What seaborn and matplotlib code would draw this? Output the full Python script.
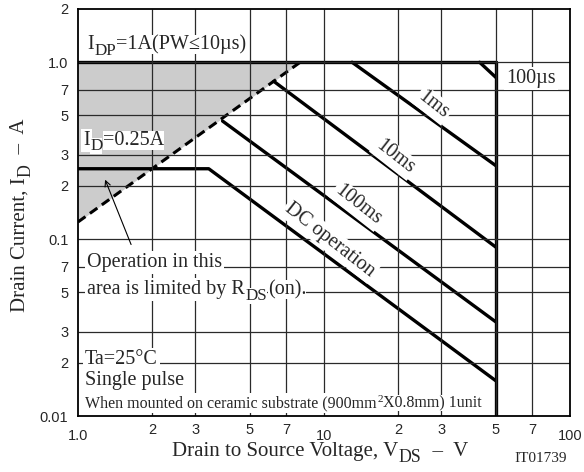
import numpy as np
import pandas as pd
import seaborn as sns
import matplotlib
matplotlib.use("Agg")
import matplotlib.pyplot as plt

# SOA curves (V_DS in V, I_D in A)
idp_v = [1.0, 50.0]
idp_i = [1.0, 1.0]
vmax_v = [50.0, 50.0]
vmax_i = [1.0, 0.01]
us100_v = [42.9, 50.0]
us100_i = [1.0, 0.82]
ms1_v = [13.0, 50.0]
ms1_i = [1.0, 0.26]
ms10_v = [6.25, 50.0]
ms10_i = [0.78, 0.090]
ms100_v = [3.87, 50.0]
ms100_i = [0.465, 0.034]
dc_v = [1.0, 3.4, 50.0]
dc_i = [0.25, 0.25, 0.0158]
rds_v = [1.0, 8.0]
rds_i = [0.125, 1.0]

x_major = [1, 10, 100]
x_major_lbl = ['1.0', '10', '100']
x_minor = [2, 3, 5, 7, 20, 30, 50, 70]
x_minor_lbl = ['2', '3', '5', '7', '2', '3', '5', '7']
y_major = [0.01, 0.1, 1.0]
y_major_lbl = ['0.01', '0.1', '1.0']
y_minor = [0.02, 0.03, 0.05, 0.07, 0.2, 0.3, 0.5, 0.7, 2]
y_minor_lbl = ['2', '3', '5', '7', '2', '3', '5', '7', '2']

curves = {'idp': (idp_v, idp_i), 'vmax': (vmax_v, vmax_i), '100us': (us100_v, us100_i),
          '1ms': (ms1_v, ms1_i), '10ms': (ms10_v, ms10_i), '100ms': (ms100_v, ms100_i),
          'dc': (dc_v, dc_i)}
rows = []
for name, (vs, cs) in curves.items():
    for v, c in zip(vs, cs):
        rows.append({'curve': name, 'vds': v, 'id': c})
df = pd.DataFrame(rows)
df_rds = pd.DataFrame({'vds': rds_v, 'id': rds_i})

sns.set_style('white')
plt.rcParams['font.family'] = ['Liberation Serif', 'DejaVu Serif']

fig = plt.figure(figsize=(5.84, 4.72), dpi=100)
ax = fig.add_axes([78 / 584, 1 - 416 / 472, 492 / 584, 407 / 472])
ax.set_xscale('log')
ax.set_yscale('log')

ax.fill_between(rds_v, rds_i, 1.0, color='#cccccc', lw=0, zorder=2)
sns.lineplot(data=df, x='vds', y='id', units='curve', estimator=None, sort=False,
             color='black', lw=2.4, ax=ax, zorder=3)
sns.lineplot(data=df_rds, x='vds', y='id', sort=False, color='black', lw=2.2,
             ax=ax, zorder=3)
ax.lines[-1].set_dashes([3, 1.8])

ax.set_xlim(1, 100)
ax.set_ylim(0.01, 2)
# grid drawn as line collections at the tick positions
ax.vlines(x_major[1:-1] + x_minor, 0.01, 2, colors='#2a2a2a', lw=0.9, zorder=4)
ax.hlines(y_major[1:] + y_minor[:-1], 1, 100, colors='#2a2a2a', lw=0.9, zorder=4)

ax.set_xticks(x_major)
ax.set_xticklabels(x_major_lbl)
ax.set_xticks(x_minor, minor=True)
ax.set_xticklabels(x_minor_lbl, minor=True)
ax.set_yticks(y_major)
ax.set_yticklabels(y_major_lbl)
ax.set_yticks(y_minor, minor=True)
ax.set_yticklabels(y_minor_lbl, minor=True)
ax.tick_params(which='both', length=0, labelsize=10.5)
ax.tick_params(axis='x', which='major', pad=9)
ax.tick_params(axis='x', which='minor', pad=5)
ax.tick_params(axis='y', which='both', pad=7)
for t in ax.get_xticklabels(which='both') + ax.get_yticklabels(which='both'):
    t.set_family('Liberation Sans')
for s in ax.spines.values():
    s.set_color('black')
    s.set_linewidth(1.3)
    s.set_zorder(6)
ax.set_xlabel('')
ax.set_ylabel('')

wb = dict(facecolor='white', edgecolor='none', pad=1.5)
wb0 = dict(facecolor='white', edgecolor='none', pad=0)
T = ax.transAxes


def rich(parts, x, y, fs, transform, va='center', box=True, rot=0):
    # chain plain text pieces so subscripts stay close to full size
    kw = dict(bbox=wb, zorder=5) if box else dict(zorder=5)
    kw0 = dict(bbox=wb0, zorder=5) if box else dict(zorder=5)
    if rot:
        base = fig.text(x, y, parts[0][0], fontsize=fs, rotation=90, ha='right', va='bottom',
                        transform=transform, **kw)
    else:
        base = ax.text(x, y, parts[0][0], fontsize=fs, ha='left', va=va, transform=transform, **kw)
    prev = base
    for s, kind in parts[1:]:
        size = fs if kind == 'n' else (0.85 * fs if kind == 's' else 0.7 * fs)
        shift = {'n': 0, 's': -0.22 * fs, 'p': 0.45 * fs}[kind]
        if rot:
            t = ax.annotate(s, xy=(1, 1), xycoords=(base, prev), xytext=(-shift, 0),
                            textcoords='offset points', fontsize=size, rotation=90,
                            ha='right', va='bottom', annotation_clip=False, **kw0)
        else:
            t = ax.annotate(s, xy=(1, 0), xycoords=(prev, base), xytext=(0.5, shift),
                            textcoords='offset points', fontsize=size,
                            ha='left', va='bottom', annotation_clip=False, **kw0)
        prev = t
    return base


fs = 14.5
rich([('I', 'n'), ('DP', 's'), ('=1A(PW≤10µs)', 'n')], 0.018, 0.912, fs, T)
rich([('I', 'n'), ('D', 's'), ('=0.25A', 'n')], 0.010, 0.678, fs, T)
ax.text(0.870, 0.830, '100µs', fontsize=fs, va='center', ha='left', transform=T, bbox=wb, zorder=5)
ax.text(0.722, 0.764, '1ms', fontsize=fs, va='center', ha='center', rotation=-38, transform=T, bbox=wb, zorder=5)
ax.text(0.644, 0.636, '10ms', fontsize=fs, va='center', ha='center', rotation=-38, transform=T, bbox=wb, zorder=5)
ax.text(0.569, 0.518, '100ms', fontsize=fs, va='center', ha='center', rotation=-38, transform=T, bbox=wb, zorder=5)
ax.text(0.512, 0.432, 'DC operation', fontsize=fs, va='center', ha='center', rotation=-38, transform=T, bbox=wb, zorder=5)
ax.text(0.018, 0.376, 'Operation in this', fontsize=fs, va='center', ha='left', transform=T, bbox=wb, zorder=5)
rich([('area is limited by R', 'n'), ('DS', 's'), ('(on).', 'n')], 0.018, 0.310, fs, T)
ax.annotate('', xy=(0.053, 0.587), xytext=(0.110, 0.415), xycoords=T, textcoords=T,
            arrowprops=dict(arrowstyle='->', color='black', lw=0.8), zorder=5)
ax.text(0.014, 0.138, 'Ta=25°C', fontsize=fs, va='center', ha='left', transform=T, bbox=wb, zorder=5)
ax.text(0.014, 0.086, 'Single pulse', fontsize=fs, va='center', ha='left', transform=T, bbox=wb, zorder=5)
rich([('When mounted on ceramic substrate (900mm', 'n'), ('2', 'p'), ('X0.8mm) 1unit', 'n')],
     0.014, 0.032, 11.5, T)

# axis titles
rich([('Drain to Source Voltage, V', 'n'), ('DS', 's'), ('  –  V', 'n')],
     172 / 584, 1 - 456 / 472, 15, fig.transFigure, va='baseline', box=False)
rich([('Drain Current, I', 'n'), ('D', 's'), ('  –  A', 'n')],
     29.5 / 584, 1 - 312 / 472, 15, fig.transFigure, box=False, rot=90)
fig.text(541 / 584, 1 - 458 / 472, 'IT01739', fontsize=11, ha='center', va='center')

fig.savefig('out.png', dpi=100)
